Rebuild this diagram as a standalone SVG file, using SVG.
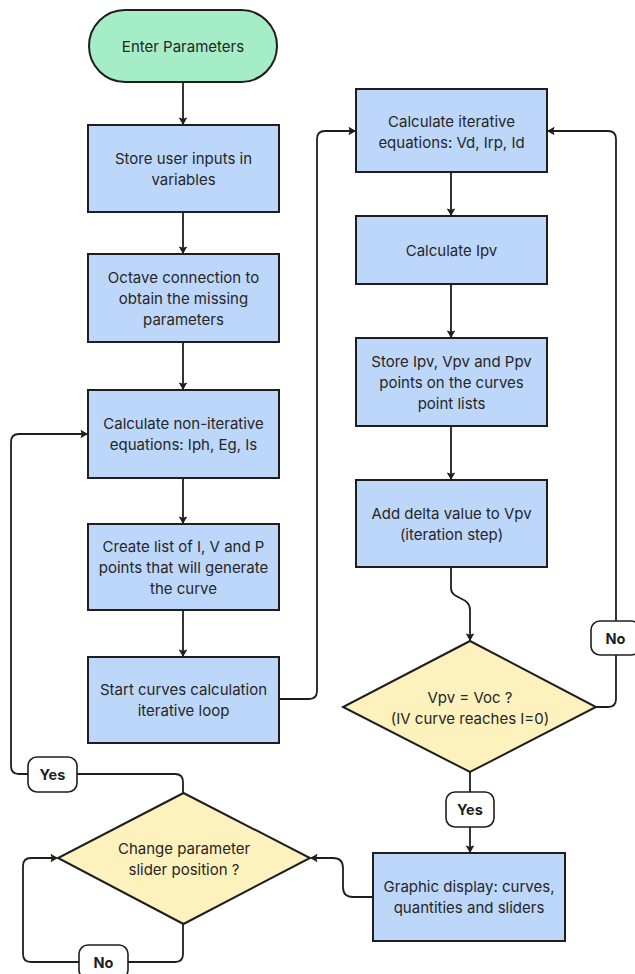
<svg xmlns="http://www.w3.org/2000/svg" width="635" height="974" viewBox="0 0 635 974">
<defs>
<style>
.term{fill:#a5edc7;stroke:#1e1e1e;stroke-width:2}
.box{fill:#bdd7fb;stroke:#1e1e1e;stroke-width:2}
.dia{fill:#fdf1bd;stroke:#1e1e1e;stroke-width:2}
.lbl{fill:#ffffff;stroke:#1e1e1e;stroke-width:1.6}
.t{font-family:Inter,"Liberation Sans",sans-serif;font-size:15px;fill:#262626;text-anchor:middle;dominant-baseline:central}
.b{font-family:Inter,"Liberation Sans",sans-serif;font-size:14.5px;font-weight:bold;fill:#1e1e1e;text-anchor:middle;dominant-baseline:central}
.c{fill:none;stroke:#1e1e1e;stroke-width:1.8}
</style>
<marker id="arr" markerWidth="10" markerHeight="10" refX="8" refY="5" orient="auto" markerUnits="userSpaceOnUse">
<path d="M2,1.5 L8,5 L2,8.5 L3.5,5 Z" fill="#1e1e1e" stroke="#1e1e1e" stroke-width="1" stroke-linejoin="round"/>
</marker>
</defs>
<rect width="635" height="974" fill="#ffffff"/>

<g id="connectors">
<path class="c" d="M183 82 V124" marker-end="url(#arr)"/>
<path class="c" d="M183 212 V253" marker-end="url(#arr)"/>
<path class="c" d="M183 342 V389" marker-end="url(#arr)"/>
<path class="c" d="M183 478 V523" marker-end="url(#arr)"/>
<path class="c" d="M183 610 V656" marker-end="url(#arr)"/>
<path class="c" d="M279 699 H309 Q317 699 317 691 V139 Q317 131 325 131 H355" marker-end="url(#arr)"/>
<path class="c" d="M451 172 V215" marker-end="url(#arr)"/>
<path class="c" d="M451 284 V337" marker-end="url(#arr)"/>
<path class="c" d="M451 426 V479" marker-end="url(#arr)"/>
<path class="c" d="M451 567 V588 C451 600 470 596 470 610 V640" marker-end="url(#arr)"/>
<path class="c" d="M596 707 H608 Q616 707 616 699 V139 Q616 131 608 131 H548" marker-end="url(#arr)"/>
<path class="c" d="M470 772 V852" marker-end="url(#arr)"/>
<path class="c" d="M373 897 H353 Q343 897 343 887 V868 Q343 858 333 858 H311" marker-end="url(#arr)"/>
<path class="c" d="M183 793 V782 Q183 774 175 774 H19 Q11 774 11 766 V442 Q11 434 19 434 H87" marker-end="url(#arr)"/>
<path class="c" d="M183 924 V954 Q183 962 175 962 H31 Q23 962 23 954 V866 Q23 858 31 858 H57" marker-end="url(#arr)"/>
</g>

<g id="n_enter">
<rect class="term" x="89" y="10" width="188" height="72" rx="36"/>
<text class="t" x="183" y="46">Enter Parameters</text>
</g>
<g id="n_store">
<rect class="box" x="88" y="125" width="191" height="87"/>
<text class="t" x="183.5" y="158">Store user inputs in</text>
<text class="t" x="183.5" y="179">variables</text>
</g>
<g id="n_octave">
<rect class="box" x="88" y="254" width="191" height="88"/>
<text class="t" x="183.5" y="277">Octave connection to</text>
<text class="t" x="183.5" y="298">obtain the missing</text>
<text class="t" x="183.5" y="319">parameters</text>
</g>
<g id="n_noniter">
<rect class="box" x="88" y="390" width="191" height="88"/>
<text class="t" x="183.5" y="423">Calculate non-iterative</text>
<text class="t" x="183.5" y="444">equations: Iph, Eg, Is</text>
</g>
<g id="n_list">
<rect class="box" x="88" y="524" width="191" height="86"/>
<text class="t" x="183.5" y="546">Create list of I, V and P</text>
<text class="t" x="183.5" y="567">points that will generate</text>
<text class="t" x="183.5" y="588">the curve</text>
</g>
<g id="n_start">
<rect class="box" x="88" y="657" width="191" height="86"/>
<text class="t" x="183.5" y="689">Start curves calculation</text>
<text class="t" x="183.5" y="710">iterative loop</text>
</g>
<g id="n_iter">
<rect class="box" x="356" y="89" width="191" height="83"/>
<text class="t" x="451.5" y="121">Calculate iterative</text>
<text class="t" x="451.5" y="142">equations: Vd, Irp, Id</text>
</g>
<g id="n_ipv">
<rect class="box" x="356" y="216" width="191" height="68"/>
<text class="t" x="451.5" y="250">Calculate Ipv</text>
</g>
<g id="n_storeipv">
<rect class="box" x="356" y="338" width="191" height="88"/>
<text class="t" x="451.5" y="361">Store Ipv, Vpv and Ppv</text>
<text class="t" x="451.5" y="382">points on the curves</text>
<text class="t" x="451.5" y="403">point lists</text>
</g>
<g id="n_delta">
<rect class="box" x="356" y="480" width="191" height="87"/>
<text class="t" x="451.5" y="513">Add delta value to Vpv</text>
<text class="t" x="451.5" y="534">(iteration step)</text>
</g>
<g id="n_voc">
<polygon class="dia" points="470,641 596,707 470,772 343,707"/>
<text class="t" x="470" y="697">Vpv = Voc ?</text>
<text class="t" x="470" y="718">(IV curve reaches I=0)</text>
</g>
<g id="n_graphic">
<rect class="box" x="373" y="853" width="192" height="88"/>
<text class="t" x="469" y="886">Graphic display: curves,</text>
<text class="t" x="469" y="907">quantities and sliders</text>
</g>
<g id="n_slider">
<polygon class="dia" points="183.5,793 310,858 183.5,924 58,858"/>
<text class="t" x="184" y="848">Change parameter</text>
<text class="t" x="184" y="869">slider position ?</text>
</g>

<g id="labels">
<g id="l_no_right">
<rect class="lbl" x="591" y="621" width="49" height="34" rx="9"/>
<text class="b" x="615.5" y="638">No</text>
</g>
<g id="l_yes_right">
<rect class="lbl" x="446" y="792" width="48" height="35" rx="9"/>
<text class="b" x="470" y="809.5">Yes</text>
</g>
<g id="l_yes_left">
<rect class="lbl" x="28" y="757" width="49" height="35" rx="9"/>
<text class="b" x="52.5" y="774.5">Yes</text>
</g>
<g id="l_no_bottom">
<rect class="lbl" x="79" y="945" width="49" height="34" rx="9"/>
<text class="b" x="103.5" y="962">No</text>
</g>
</g>
</svg>
